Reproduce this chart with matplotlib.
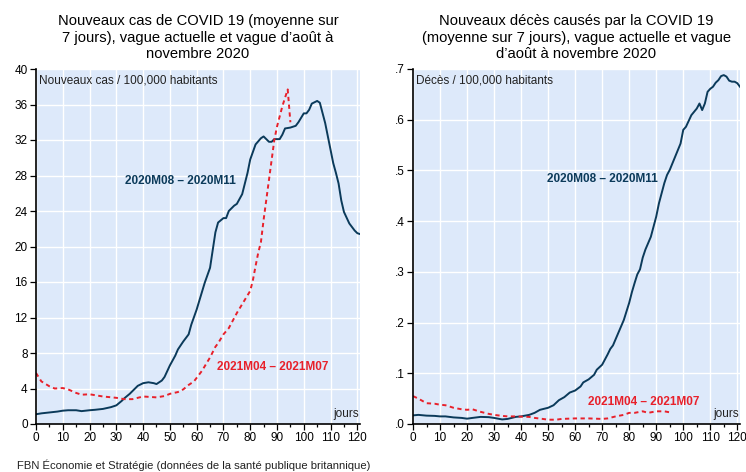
import matplotlib
matplotlib.use("Agg")
import matplotlib.pyplot as plt
from matplotlib.ticker import MultipleLocator, FuncFormatter

plt.rcParams['font.family'] = ['Liberation Sans', 'DejaVu Sans']

# ---------- Données : nouveaux cas / 100,000 ----------
cas_2020_jours = [0, 2, 5, 8, 10, 12, 15, 17, 20, 22, 25, 28, 30, 32, 33, 35, 37, 38,
                  40, 42, 44, 45, 47, 48, 50, 52, 53, 55, 57, 58, 60, 62, 63, 65, 66, 67,
                  68, 70, 71, 72, 74, 75, 77, 79, 80, 82, 84, 85, 87, 88, 89, 91, 92, 93,
                  95, 97, 98, 100, 101, 102, 103, 105, 106, 108, 110, 111, 112, 113, 114,
                  115, 117, 119, 120, 121]
cas_2020 = [1.1, 1.2, 1.3, 1.4, 1.5, 1.55, 1.55, 1.45, 1.55, 1.6, 1.7, 1.9, 2.1, 2.6, 2.9,
            3.4, 4.0, 4.3, 4.6, 4.7, 4.6, 4.5, 4.9, 5.3, 6.6, 7.7, 8.4, 9.3, 10.1, 11.2,
            12.9, 14.9, 15.9, 17.6, 19.6, 21.6, 22.7, 23.2, 23.2, 24.0, 24.6, 24.8, 25.9,
            28.3, 29.8, 31.5, 32.2, 32.4, 31.8, 31.8, 32.1, 32.1, 32.6, 33.3, 33.4, 33.6,
            34.0, 35.0, 35.0, 35.4, 36.1, 36.4, 36.2, 33.9, 30.9, 29.4, 28.3, 27.1, 25.2,
            23.9, 22.6, 21.8, 21.5, 21.4]

cas_2021_jours = [0, 2, 5, 7, 10, 12, 15, 17, 20, 25, 30, 33, 36, 38, 40, 45, 48, 50, 53,
                  55, 57, 59, 60, 62, 65, 67, 68, 70, 72, 75, 78, 80, 81, 82, 83, 84, 85,
                  87, 89, 90, 92, 94, 95]
cas_2021 = [5.75, 4.8, 4.25, 4.0, 4.05, 3.9, 3.5, 3.3, 3.35, 3.1, 2.95, 2.8, 2.8, 2.95,
            3.1, 3.0, 3.15, 3.4, 3.6, 3.9, 4.4, 4.8, 5.2, 6.0, 7.5, 8.7, 9.1, 10.1, 10.8,
            12.5, 14.0, 15.0, 16.2, 17.8, 19.3, 20.5, 23.0, 27.5, 32.0, 33.5, 35.8, 37.7,
            34.0]

# ---------- Données : décès / 100,000 ----------
deces_2020_jours = [0, 2, 5, 8, 10, 12, 15, 18, 20, 22, 25, 28, 30, 33, 35, 38, 40, 43,
                    45, 47, 50, 52, 54, 56, 58, 60, 62, 63, 65, 67, 68, 70, 72, 73, 74, 76,
                    78, 80, 81, 82, 83, 84, 85, 86, 88, 90, 91, 92, 93, 94, 95, 97, 99,
                    100, 101, 103, 105, 106, 107, 108, 109, 110, 111, 112, 113, 114, 115,
                    116, 117, 118, 119, 120, 121]
deces_2020 = [.017, .018, .0165, .016, .015, .015, .013, .012, .0105, .012, .014, .0135,
              .012, .009, .010, .014, .015, .018, .022, .028, .032, .037, .047, .053,
              .062, .066, .074, .082, .088, .097, .107, .117, .137, .148, .155, .180,
              .205, .239, .260, .278, .295, .305, .328, .344, .369, .409, .435, .455,
              .475, .491, .501, .527, .553, .580, .586, .609, .622, .632, .619, .632,
              .655, .661, .665, .673, .678, .686, .688, .685, .677, .675, .675, .672,
              .665]

deces_2021_jours = [0, 2, 5, 8, 10, 12, 15, 18, 20, 22, 25, 28, 30, 33, 35, 38, 40, 43,
                    45, 48, 50, 53, 55, 60, 65, 70, 72, 75, 78, 80, 82, 85, 87, 90, 93, 95]
deces_2021 = [.055, .050, .041, .040, .038, .037, .032, .029, .028, .029, .024, .020,
              .018, .016, .015, .015, .0145, .014, .012, .010, .0085, .0085, .010, .011,
              .011, .010, .011, .015, .018, .022, .022, .025, .022, .025, .025, .023]

NAVY = '#0b3a5a'
RED = '#e8202a'
BG = '#dde9fa'

fig = plt.figure(figsize=(7.46, 4.72), dpi=100)
ax1 = fig.add_axes([36 / 746, 48 / 472, 324 / 746, 355 / 472])
ax2 = fig.add_axes([413 / 746, 48 / 472, 327 / 746, 355 / 472])


def style(ax, ymax, ystep, fmt):
    ax.set_facecolor(BG)
    ax.set_xlim(0, 121)
    ax.set_ylim(0, ymax)
    ax.xaxis.set_major_locator(MultipleLocator(10))
    ax.xaxis.set_minor_locator(MultipleLocator(5))
    ax.yaxis.set_major_locator(MultipleLocator(ystep))
    ax.yaxis.set_major_formatter(FuncFormatter(fmt))
    ax.grid(True, which='major', color='white', linewidth=1.0)
    ax.set_axisbelow(True)
    for s in ['top', 'right']:
        ax.spines[s].set_visible(False)
    ax.spines['left'].set_linewidth(1.2)
    ax.spines['bottom'].set_linewidth(1.2)
    ax.tick_params(axis='both', which='major', labelsize=8.5, length=4, width=0.9,
                   direction='out', pad=2)
    ax.tick_params(axis='x', which='minor', length=2.5, width=0.9)
    ax.text(1.0 - 0.004, 0.01, 'jours', transform=ax.transAxes, ha='right',
            va='bottom', fontsize=8.5, color='#222222')


style(ax1, 40, 4, lambda v, p: f'{v:.0f}')
style(ax2, 0.7, 0.1, lambda v, p: f'{v:.1f}'.lstrip('0'))

ax1.plot(cas_2020_jours, cas_2020, color=NAVY, linewidth=1.4)
ax1.plot(cas_2021_jours, cas_2021, color=RED, linewidth=1.4, linestyle=(0, (2.2, 1.8)))
ax1.text(0.01, 0.985, 'Nouveaux cas / 100,000 habitants', transform=ax1.transAxes,
         ha='left', va='top', fontsize=8.5, color='#222222')
ax1.text(54, 27.4, '2020M08 – 2020M11', color=NAVY, fontsize=8.5, fontweight='bold',
         ha='center', va='center')
ax1.text(88.5, 6.4, '2021M04 – 2021M07', color=RED, fontsize=8.5, fontweight='bold',
         ha='center', va='center')
ax1.set_title("Nouveaux cas de COVID 19 (moyenne sur\n7 jours), vague actuelle et vague d’août à\nnovembre 2020",
              fontsize=10.6, pad=8, linespacing=1.2)

ax2.plot(deces_2020_jours, deces_2020, color=NAVY, linewidth=1.4)
ax2.plot(deces_2021_jours, deces_2021, color=RED, linewidth=1.4, linestyle=(0, (2.2, 1.8)))
ax2.text(0.01, 0.985, 'Décès / 100,000 habitants', transform=ax2.transAxes,
         ha='left', va='top', fontsize=8.5, color='#222222')
ax2.text(70.2, 0.483, '2020M08 – 2020M11', color=NAVY, fontsize=8.5, fontweight='bold',
         ha='center', va='center')
ax2.text(85.4, 0.043, '2021M04 – 2021M07', color=RED, fontsize=8.5, fontweight='bold',
         ha='center', va='center')
ax2.set_title("Nouveaux décès causés par la COVID 19\n(moyenne sur 7 jours), vague actuelle et vague\nd’août à novembre 2020",
              fontsize=10.6, pad=8, linespacing=1.2)

fig.text(17 / 746, 1 - 465 / 472, 'FBN Économie et Stratégie (données de la santé publique britannique)',
         fontsize=8.1, ha='left', va='center', color='#222222')

fig.savefig('out.png', dpi=100)
